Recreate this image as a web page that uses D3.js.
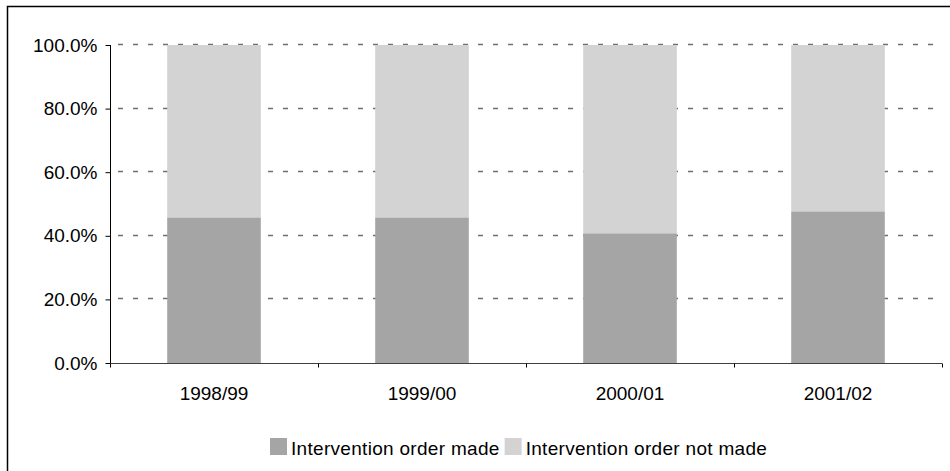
<!DOCTYPE html>
<html>
<head>
<meta charset="utf-8">
<script src="https://cdn.jsdelivr.net/npm/d3@7"></script>
<style>
  html, body { margin: 0; padding: 0; background: #fff; }
  svg { display: block; font-family: "Liberation Sans", Arial, sans-serif; }
</style>
</head>
<body>
<svg id="chart" width="950" height="471"></svg>
<script>
// Share of cases by year, split by whether an intervention order was made
const years = ["1998/99", "1999/00", "2000/01", "2001/02"];
const orderMade = [45.8, 45.8, 40.8, 47.7];
const orderNotMade = [54.2, 54.2, 59.2, 52.3];
const seriesNames = ["Intervention order made", "Intervention order not made"];
const yTicks = [0, 20, 40, 60, 80, 100];

const colors = ["#a5a5a5", "#d3d3d3"];

const svg = d3.select("#chart");
const W = 950, H = 471;

// Outer frame
svg.append("rect")
  .attr("x", 7.5).attr("y", 6.5)
  .attr("width", W + 20).attr("height", H + 20)
  .attr("fill", "none").attr("stroke", "#000").attr("stroke-width", 1.5);

const x = d3.scaleBand().domain(years).range([110, 942]).paddingInner(0.55).paddingOuter(0.275);
const xOuter = d3.scaleBand().domain(years).range([110, 942]);
const y = d3.scaleLinear().domain([0, 100]).range([363, 45]);

// Dashed gridlines
svg.append("g").selectAll("line")
  .data(yTicks.filter(d => d > 0))
  .join("line")
  .attr("x1", 110).attr("x2", 942)
  .attr("y1", d => Math.round(y(d)) - 0.5).attr("y2", d => Math.round(y(d)) - 0.5)
  .attr("stroke", "#707070").attr("stroke-width", 1.6)
  .attr("stroke-dasharray", "5,10")
  .attr("stroke-dashoffset", -8);

// Stacked bars
const rows = years.map((yr, i) => ({ year: yr, made: orderMade[i], notMade: orderNotMade[i] }));
const stack = d3.stack().keys(["made", "notMade"])(rows);

svg.append("g").selectAll("g")
  .data(stack)
  .join("g")
  .attr("fill", (d, i) => colors[i])
  .selectAll("rect")
  .data(d => d)
  .join("rect")
  .attr("x", d => x(d.data.year))
  .attr("width", x.bandwidth())
  .attr("y", d => y(d[1]))
  .attr("height", d => y(d[0]) - y(d[1]));

// Y axis
const yAxis = svg.append("g")
  .attr("transform", "translate(110.5,0)")
  .call(d3.axisLeft(y).tickValues(yTicks).tickSize(5).tickPadding(8)
    .tickFormat(d => d.toFixed(1) + "%"));
yAxis.select(".domain").attr("stroke", "#000").attr("d", "M0,45V363");
yAxis.selectAll(".tick line").attr("stroke", "#000");
yAxis.selectAll("text").attr("font-size", 19).attr("fill", "#000")
  .attr("font-family", "Liberation Sans, Arial, sans-serif");

// X axis with ticks at category boundaries
const xg = svg.append("g").attr("transform", "translate(0,363.5)");
xg.append("line").attr("x1", 110).attr("x2", 942).attr("stroke", "#404040").attr("stroke-width", 1);
const bounds = years.map(d => xOuter(d)).concat([942]);
xg.selectAll("line.tk").data(bounds).join("line").attr("class", "tk")
  .attr("x1", d => d + 0.5).attr("x2", d => d + 0.5).attr("y1", 0).attr("y2", 4)
  .attr("stroke", "#000");
xg.selectAll("text").data(years).join("text")
  .attr("x", d => x(d) + x.bandwidth() / 2)
  .attr("y", 36)
  .attr("text-anchor", "middle")
  .attr("font-size", 19)
  .text(d => d);

// Legend
const legend = svg.append("g").attr("transform", "translate(270,438)");
let lx = 0;
seriesNames.forEach((name, i) => {
  const g = legend.append("g").attr("transform", `translate(${lx},0)`);
  g.append("rect").attr("width", 17).attr("height", 17).attr("fill", colors[i]);
  const t = g.append("text").attr("x", 21).attr("y", 17)
    .attr("font-size", 19).attr("letter-spacing", 0.3).text(name);
  lx += 21 + t.node().getComputedTextLength() + 5;
});
</script>
</body>
</html>
